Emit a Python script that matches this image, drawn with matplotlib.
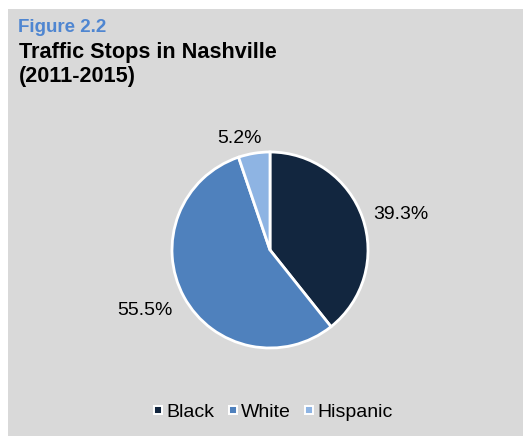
import matplotlib
matplotlib.use("Agg")
import matplotlib.pyplot as plt
from matplotlib.patches import Rectangle
from matplotlib.lines import Line2D
import numpy as np

categories = ["Black", "White", "Hispanic"]
values = [39.3, 55.5, 5.2]
colors = ["#12263f", "#4f81bd", "#8eb4e3"]
label_texts = ["39.3%", "55.5%", "5.2%"]

W, H = 523, 436
fig = plt.figure(figsize=(W / 100, H / 100), dpi=100)
fig.patch.set_facecolor("white")
fig.patches.append(Rectangle((8 / W, 0), 1 - 8 / W, 1 - 9 / H, transform=fig.transFigure,
                             facecolor="#d9d9d9", edgecolor="none", zorder=-10))

font = "Liberation Sans"
fig.text(18 / W, 1 - 32 / H, "Figure 2.2", color="#4f86d1", fontsize=13.5,
         fontweight="bold", family=font, va="baseline")
fig.text(19 / W, 1 - 58 / H, "Traffic Stops in Nashville", color="black", fontsize=15.6,
         fontweight="bold", family=font, va="baseline")
fig.text(19 / W, 1 - 82 / H, "(2011-2015)", color="black", fontsize=15.6,
         fontweight="bold", family=font, va="baseline")

cx, cy, r = 270, 250, 98
ax = fig.add_axes([(cx - r) / W, (H - cy - r) / H, 2 * r / W, 2 * r / H])
ax.set_zorder(5)
wedges, _ = ax.pie(values, colors=colors, startangle=90, counterclock=False, radius=1,
                   wedgeprops=dict(edgecolor="white", linewidth=2))
ax.set_xlim(-1, 1)
ax.set_ylim(-1, 1)
ax.set_aspect("equal")
ax.axis("off")
for w in wedges:
    w.set_clip_on(False)

dists = [1.368, 1.438, 1.137]
offs = [-5.9, -1.15, 6.8]
for w, txt, d, o in zip(wedges, label_texts, dists, offs):
    ang = np.deg2rad((w.theta1 + w.theta2) / 2 + o)
    ax.text(d * np.cos(ang), d * np.sin(ang), txt, ha="center", va="baseline",
            fontsize=14, family=font, color="black", clip_on=False)

handles = [Line2D([], [], marker="s", linestyle="none", markersize=6.2,
                  markerfacecolor=c, markeredgecolor="white", markeredgewidth=1.4)
           for c in colors]
leg = fig.legend(handles, categories, loc="center", bbox_to_anchor=(273 / W, 1 - 412 / H),
                 ncol=3, frameon=False, prop=dict(family=font, size=14),
                 handlelength=0.5, handletextpad=0.15, columnspacing=0.72)
leg.set_zorder(6)

fig.savefig("out.png", dpi=100)
